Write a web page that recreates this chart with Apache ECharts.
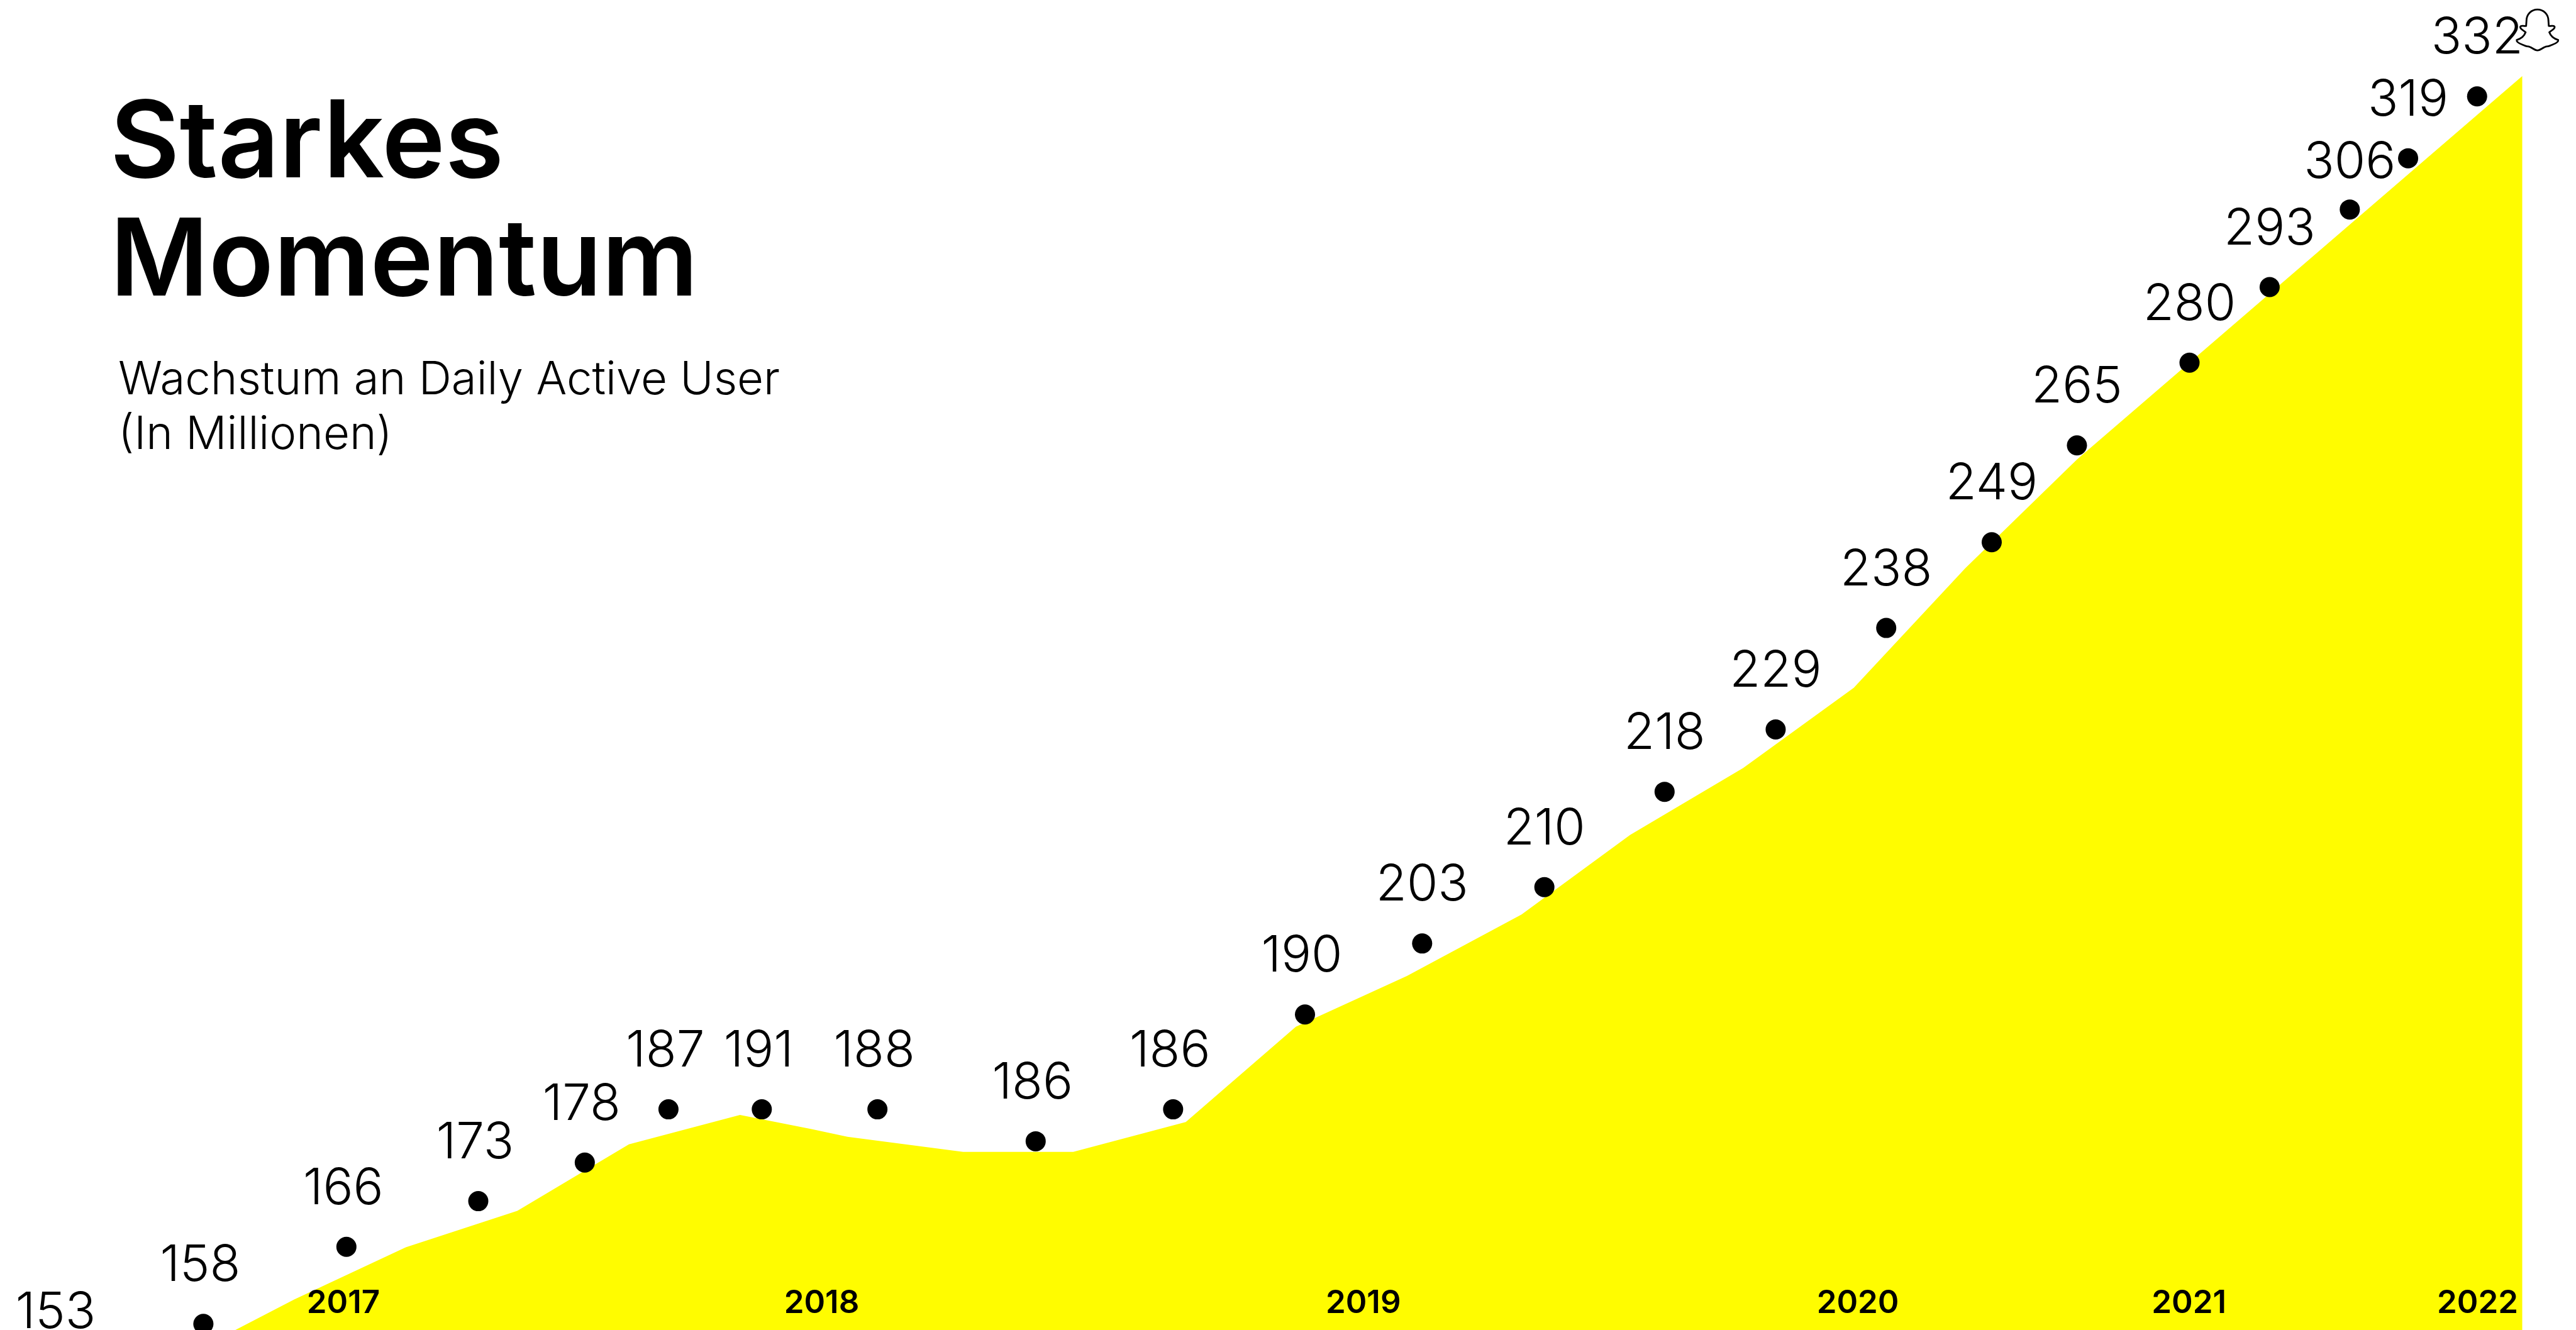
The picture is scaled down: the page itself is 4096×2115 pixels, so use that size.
<!DOCTYPE html>
<html>
<head>
<meta charset="utf-8">
<script src="https://cdn.jsdelivr.net/npm/echarts@6/dist/echarts.min.js"></script>
<style>html,body{margin:0;padding:0;background:#fff}#c{width:4096px;height:2115px}</style>
</head>
<body>
<div id="c"></div>
<script>
const areaX = [464,580,800,1020,1240,1459,1600,1671,1899,2116,2338,2555,2774,3000,3214,3437,3655,3875,4095,4973];
const areaHeight = [0,60,163,235,366,424,396,381,351,351,410,598,698,819,976,1108,1266,1502,1716,2472];

const dauValues = [153,158,166,173,178,187,191,188,186,186,190,203,210,218,229,238,249,265,280,293,306,319,332];
const dotX = [116,401,683,943,1153,1318,1502,1730,2042,2313,2573,2804,3045,3282,3501,3719,3927,4095,4317,4475,4633,4748,4884];
const dotHeight = [-81,12,164,254,330,435,435,435,372,435,622,762,873,1061,1184,1384,1553,1744,1907,2056,2209,2310,2432];

const yearLabels = ['2017','2018','2019','2020','2021','2022'];
const yearX = [677,1620,2688,3663,4316,4885];

const titleText = 'Starkes\nMomentum';
const subtitleText = 'Wachstum an Daily Active User\n(In Millionen)';
const logoPoint = [5003, 2563];
const logoPath = 'path://M120 0C155 0 182 28 182 65L184 95C195 100 212 88 217 100C220 115 195 122 187 132C195 155 215 170 237 177C240 190 215 200 205 204C195 205 190 215 172 214C155 215 140 237 120 237C100 237 85 215 68 214C50 215 45 205 35 204C25 200 0 190 3 177C25 170 45 155 53 132C45 122 20 115 23 100C28 88 45 100 56 95L58 65C58 28 85 0 120 0Z';

const FONT = 'Inter';
const chart = echarts.init(document.getElementById('c'), null, {renderer:'canvas'});
chart.setOption({
  animation: false,
  backgroundColor: '#ffffff',
  title: [
    {text: titleText, left: 170, top: 132,
     textStyle: {fontFamily: FONT, fontWeight: 600, fontSize: 170, lineHeight: 188, color: '#000'}},
    {text: subtitleText, left: 183, top: 557,
     textStyle: {fontFamily: FONT, fontWeight: 350, fontSize: 72.5, lineHeight: 87, color: '#000'}}
  ],
  grid: {left: 0, right: 0, top: 0, bottom: 0, containLabel: false},
  xAxis: {
    type: 'value', min: 0, max: 5079, z: 10,
    splitLine: {show: false}, axisLine: {show: false}, axisTick: {show: false},
    axisLabel: {
      show: true, inside: true, margin: 17,
      customValues: yearX,
      formatter: v => yearLabels[yearX.indexOf(v)],
      fontFamily: FONT, fontWeight: 600, fontSize: 51, color: '#000'
    }
  },
  yAxis: {type: 'value', min: 0, max: 2622, show: false},
  series: [
    {
      type: 'line', z: 1, silent: true, showSymbol: false, symbol: 'none',
      data: areaX.map((x,i) => [x, areaHeight[i]]),
      lineStyle: {width: 0},
      areaStyle: {color: '#FFFC00', opacity: 1, origin: 'start'}
    },
    {
      type: 'scatter', z: 3, clip: false, silent: true, symbolSize: 32,
      data: dotX.map((x,i) => ({
        value: [x, dotHeight[i], dauValues[i]],
        label: {
          distance: dauValues[i] === 306 ? 18 : 36,
          offset: dauValues[i] < 200 ? [-5, 0] : [0, 0]
        }
      })),
      itemStyle: {color: '#000', opacity: 1},
      label: {
        show: true, position: 'top',
        formatter: p => String(p.value[2]),
        fontFamily: FONT, fontWeight: 350, fontSize: 80, color: '#000'
      }
    },
    {
      type: 'scatter', z: 4, silent: true,
      symbol: logoPath, symbolSize: [66, 65], symbolKeepAspect: false,
      data: [logoPoint],
      itemStyle: {color: '#fff', borderColor: '#000', borderWidth: 2.8, opacity: 1}
    }
  ]
});
</script>
</body>
</html>
